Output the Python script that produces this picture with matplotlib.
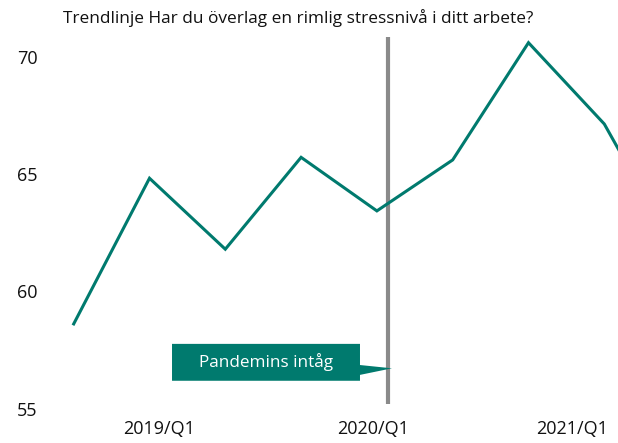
import matplotlib
matplotlib.use("Agg")
import matplotlib.pyplot as plt
from matplotlib.patches import Polygon

# ---- data ----
point_index = [0, 1, 2, 3, 4, 5, 6, 7, 8]
values = [58.62, 64.82, 61.80, 65.71, 63.43, 65.60, 70.59, 67.13, 61.38]
tick_positions = [1.12, 3.955, 6.57]
tick_labels = ["2019/Q1", "2020/Q1", "2021/Q1"]
y_ticks = [55, 60, 65, 70]
pandemic_x = 4.14
title = "Trendlinje Har du överlag en rimlig stressnivå i ditt arbete?"
annotation_text = "Pandemins intåg"

TEAL = "#007a6e"
GRAY = "#8a8a8a"
FONT = "Open Sans"

W, H = 618, 443
fig = plt.figure(figsize=(W / 100, H / 100), dpi=100)
ax = fig.add_axes([50 / W, (H - 420) / H, (W - 50) / W, 390 / H])

ax.plot(point_index, values, color=TEAL, lw=2.2, solid_joinstyle="miter", zorder=3)
ax.vlines(pandemic_x, 55.21, 70.84, color=GRAY, lw=3, zorder=2)

ax.set_xlim(-0.3127, 7.181)
ax.set_ylim(54.53, 71.13)
ax.set_yticks(y_ticks)
ax.set_yticklabels([str(v) for v in y_ticks], fontfamily=FONT, fontsize=13, color="#111111")
ax.set_xticks(tick_positions)
ax.set_xticklabels(tick_labels, fontfamily=FONT, fontsize=13, color="#111111")
ax.tick_params(axis="y", length=0, pad=9)
ax.tick_params(axis="x", length=0, pad=0)
for s in ax.spines.values():
    s.set_visible(False)

# callout box with pointer
x0, x1, tip = 1.297, 3.777, 4.199
y_top, y_bot = 57.77, 56.20
poly = Polygon([(x0, y_top), (x1, y_top), (x1, 56.87), (tip, 56.73), (x1, 56.45),
                (x1, y_bot), (x0, y_bot)], closed=True, facecolor=TEAL,
               edgecolor="none", zorder=4)
ax.add_patch(poly)
ax.text((x0 + x1) / 2, 57.0, annotation_text, color="white", fontfamily=FONT,
        fontsize=12.3, ha="center", va="center", zorder=5)

fig.text(298 / W, 1 - 18 / H, title, fontfamily=FONT, fontsize=12.4, ha="center",
         va="center", color="#111111")

fig.savefig("out.png", dpi=100)
